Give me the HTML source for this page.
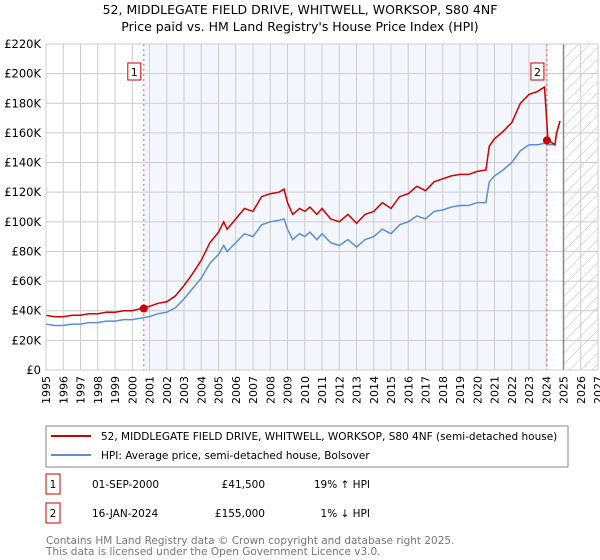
<!DOCTYPE html>
<html><head><meta charset="utf-8"><style>
body{margin:0;background:#fff;font-family:"Liberation Sans","DejaVu Sans",sans-serif;}
svg{display:block}
</style></head><body>
<svg id="c" width="600" height="560" xmlns="http://www.w3.org/2000/svg" font-family="DejaVu Sans, Liberation Sans, sans-serif">
<text x="300" y="14" text-anchor="middle" font-size="12.5" fill="#000">52, MIDDLEGATE FIELD DRIVE, WHITWELL, WORKSOP, S80 4NF</text>
<text x="300" y="31" text-anchor="middle" font-size="12.5" fill="#000">Price paid vs. HM Land Registry's House Price Index (HPI)</text>
<defs><pattern id="hatch" width="8" height="8" patternUnits="userSpaceOnUse" patternTransform="rotate(45)"><line x1="0" y1="0" x2="0" y2="8" stroke="#bbb" stroke-width="1"/></pattern></defs>
<g id="plot"></g>
<rect x="46" y="426" width="522" height="41" fill="#fff" stroke="#888"/>
<line x1="51" y1="436" x2="91" y2="436" stroke="#cc0000" stroke-width="2"/>
<text x="101" y="440" font-size="10.5">52, MIDDLEGATE FIELD DRIVE, WHITWELL, WORKSOP, S80 4NF (semi-detached house)</text>
<line x1="51" y1="455" x2="91" y2="455" stroke="#5b8fd0" stroke-width="2"/>
<text x="101" y="459" font-size="10.5">HPI: Average price, semi-detached house, Bolsover</text>
<g font-size="10.5">
<rect x="46" y="474" width="14" height="20" fill="#fff" stroke="#cc0000"/>
<text x="53" y="488" text-anchor="middle">1</text>
<text x="92" y="488">01-SEP-2000</text>
<text x="265" y="488" text-anchor="end">£41,500</text>
<text x="370" y="488" text-anchor="end">19% ↑ HPI</text>
<rect x="46" y="503" width="14" height="20" fill="#fff" stroke="#cc0000"/>
<text x="53" y="517" text-anchor="middle">2</text>
<text x="92" y="517">16-JAN-2024</text>
<text x="265" y="517" text-anchor="end">£155,000</text>
<text x="370" y="517" text-anchor="end">1% ↓ HPI</text>
</g>
<text x="46" y="544" font-size="10.5" fill="#777">Contains HM Land Registry data © Crown copyright and database right 2025.</text>
<text x="46" y="555" font-size="10.5" fill="#777">This data is licensed under the Open Government Licence v3.0.</text>
</svg>
<script>
const years=[1995,1995.5,1996,1996.5,1997,1997.5,1998,1998.5,1999,1999.5,2000,2000.5,2001,2001.5,2002,2002.5,2003,2003.5,2004,2004.5,2005,2005.3,2005.5,2006,2006.5,2007,2007.5,2008,2008.5,2008.8,2009,2009.3,2009.7,2010,2010.3,2010.7,2011,2011.5,2012,2012.5,2013,2013.5,2014,2014.5,2015,2015.5,2016,2016.5,2017,2017.5,2018,2018.5,2019,2019.5,2020,2020.5,2020.7,2021,2021.5,2022,2022.5,2023,2023.5,2023.9,2024.1,2024.5,2024.6,2024.8];
const hpiValues=[31,30,30,31,31,32,32,33,33,34,34,35,36,38,39,42,48,55,62,72,78,84,80,86,92,90,98,100,101,102,95,88,92,90,93,88,92,86,84,88,83,88,90,95,92,98,100,104,102,107,108,110,111,111,113,113,127,131,135,140,148,152,152,153,152,152,160,168];
const propValues=[37,36,36,37,37,38,38,39,39,40,40,41.5,43,45,46,50,57,65,74,86,93,100,95,102,109,107,117,119,120,122,113,105,109,107,110,105,109,102,100,105,99,105,107,113,109,117,119,124,121,127,129,131,132,132,134,135,151,156,161,167,180,186,188,191,155,152,160,168];
const yTicks=[0,20,40,60,80,100,120,140,160,180,200,220];
const xTicks=[1995,1996,1997,1998,1999,2000,2001,2002,2003,2004,2005,2006,2007,2008,2009,2010,2011,2012,2013,2014,2015,2016,2017,2018,2019,2020,2021,2022,2023,2024,2025,2026,2027];
const sales=[{n:"1",t:2000.67,v:41.5},{n:"2",t:2024.04,v:155}];
const X0=46,X1=598,Y0=370,Y1=44;
const xs=t=>X0+(t-1995)/(2027-1995)*(X1-X0);
const ys=v=>Y0-v/220*(Y0-Y1);
const NS="http://www.w3.org/2000/svg";
const g=document.getElementById('plot');
function mk(tag,a){const e=document.createElementNS(NS,tag);for(const k in a)e.setAttribute(k,a[k]);g.appendChild(e);return e;}
let e;
e=mk('rect',{x:xs(sales[0].t),y:Y1,width:xs(sales[1].t)-xs(sales[0].t),height:Y0-Y1,fill:'#eef3fc',opacity:0.7});


e=mk('rect',{x:xs(2025),y:Y1,width:X1-xs(2025),height:Y0-Y1,fill:'url(#hatch)'});


xTicks.forEach(t=>{
 e=mk('line',{x1:xs(t),x2:xs(t),y1:Y1,y2:Y0,stroke:'#ccc','stroke-width':1});
 
 
 e=mk('text',{x:0,y:0,'font-size':11,'text-anchor':'end',transform:`translate(${xs(t)+4},${Y0+6}) rotate(-90)`});
 e.textContent=t;
 
 
});
yTicks.forEach(v=>{
 e=mk('line',{x1:X0,x2:X1,y1:ys(v),y2:ys(v),stroke:'#ccc','stroke-width':1});
 
 
 e=mk('text',{x:X0-5,y:ys(v)+4,'font-size':11.5,'text-anchor':'end'});
 e.textContent=v===0?'£0':'£'+v+'K';
 
 
});
e=mk('line',{x1:xs(2025),x2:xs(2025),y1:Y1,y2:Y0,stroke:'#888','stroke-width':1.5});


sales.forEach(s=>{
 e=mk('line',{x1:xs(s.t),x2:xs(s.t),y1:Y1,y2:Y0,stroke:'#e06060','stroke-width':1,'stroke-dasharray':'2,3'});
 
 
});
const pts=vals=>vals.map((v,i)=>xs(years[i]).toFixed(1)+','+ys(v).toFixed(1)).join(' ');
e=mk('polyline',{points:pts(hpiValues),fill:'none',stroke:'#5b8fd0','stroke-width':1.5});


e=mk('polyline',{points:pts(propValues),fill:'none',stroke:'#cc0000','stroke-width':1.5});


sales.forEach(s=>{
 e=mk('circle',{cx:xs(s.t),cy:ys(s.v),r:4,fill:'#cc0000'});
 
 
 e=mk('rect',{x:xs(s.t)-16,y:63,width:13,height:17,fill:'#fff',stroke:'#cc0000'});
 
 
 e=mk('text',{x:xs(s.t)-9.5,y:76,'font-size':11,'text-anchor':'middle'});
 e.textContent=s.n;
 
 
});
e=mk('rect',{x:X0,y:Y1,width:X1-X0,height:Y0-Y1,fill:'none',stroke:'#ccc'});


</script>
</body></html>
